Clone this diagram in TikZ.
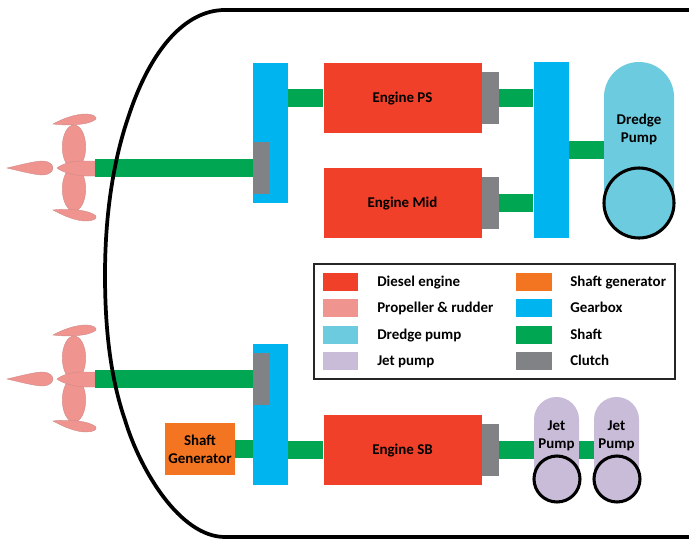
\documentclass[tikz,border=0pt]{standalone}
\usepackage{fontspec}
\setmainfont{Carlito}
\usetikzlibrary{positioning,calc}

\definecolor{engineRed}{HTML}{F0402A}
\definecolor{propPink}{HTML}{F09490}
\definecolor{propEdge}{HTML}{D08A88}
\definecolor{dredgeTeal}{HTML}{6CCBDE}
\definecolor{jetLilac}{HTML}{C8BCD9}
\definecolor{genOrange}{HTML}{F47521}
\definecolor{gearBlue}{HTML}{00B5EF}
\definecolor{shaftGreen}{HTML}{00A651}
\definecolor{clutchGrey}{HTML}{808285}

\tikzset{
  label text/.style={font=\bfseries\fontsize{11.2}{13.5}\selectfont,align=center,text=black,yshift=-0.75pt},
  key text/.style={font=\bfseries\fontsize{11.2}{13.5}\selectfont,text=black,anchor=west,inner sep=0pt,text height=9.6pt,text depth=2.4pt},
  block/.style={rectangle,inner sep=0pt,font=\bfseries\fontsize{11.2}{13.5}\selectfont,align=center,text=black},
  engine/.style={block,fill=engineRed,minimum width=118.5pt,minimum height=52.5pt,text height=7.6pt,text depth=1.6pt},
  gearbox/.style={block,fill=gearBlue,minimum width=26.25pt},
  clutch/.style={block,fill=clutchGrey,minimum width=12.75pt,minimum height=39pt},
  dredge/.style={block,fill=dredgeTeal,minimum width=52.5pt,minimum height=132pt,rounded corners=26.2pt},
  jet/.style={block,fill=jetLilac,minimum width=33.75pt,minimum height=79.5pt,rounded corners=16.8pt},
  port/.style={circle,draw=black,line width=2.3pt,inner sep=0pt},
  shaft/.style={shaftGreen,line width=13.5pt},
  swatch/.style={rectangle,inner sep=0pt,minimum width=26.5pt,minimum height=13.5pt},
  propeller/.pic={
    \begin{scope}[fill=propPink,draw=propEdge,line width=0.3pt]
      % Blades
      \filldraw (74,-21) ellipse (8.8pt and 16.5pt);
      \filldraw (74,21) ellipse (8.8pt and 16.5pt);
      \filldraw (53,-44) .. controls (64,-50) and (76,-54) .. (86,-54) .. controls (93,-54) and (97,-51) .. (96,-49)
        .. controls (90,-43) and (68,-42) .. (53,-44) -- cycle;
      \filldraw (53,42) .. controls (68,40) and (90,42) .. (96,48) .. controls (97,51) and (93,53) .. (86,53)
        .. controls (76,53) and (64,48) .. (53,42) -- cycle;
      % Rudder
      \filldraw (7,0) .. controls (20,-3) and (35,-7) .. (43,-7) .. controls (49,-7) and (53,-3) .. (53,0)
        .. controls (53,3) and (49,7) .. (43,7) .. controls (35,7) and (20,3) .. (7,0) -- cycle;
      % Hub
      \filldraw (57,0) .. controls (62,-4) and (72,-7) .. (82,-7) -- (95,-7) -- (95,8) -- (84,8)
        .. controls (72,7) and (62,4) .. (57,0) -- cycle;
    \end{scope}
  }
}

\begin{document}
\begin{tikzpicture}[x=0.75pt,y=-0.75pt]
  \useasboundingbox (0,0) rectangle (689,539);

  % Propellers
  \pic at (0,168) {propeller};
  \pic at (0,379) {propeller};
  \coordinate (hubPort) at (95,168);
  \coordinate (hubStar) at (95,379);

  % Gearboxes
  \node[gearbox,minimum height=105pt] (gearPort) at (270.5,133) {};
  \node[gearbox,minimum height=132pt] (gearDredge) at (551,150) {};
  \node[gearbox,minimum height=105.75pt] (gearStar) at (270.5,414.5) {};

  % Engines
  \node[engine] (enginePS) at (402.5,98) {Engine PS};
  \node[engine] (engineMid) at (402.5,203) {Engine Mid};
  \node[engine] (engineSB) at (402.5,450) {Engine SB};

  % Clutches
  \node[clutch] (clutchPort) at (261.5,168) {};
  \node[clutch] (clutchStar) at (261.5,379) {};
  \node[clutch] (clutchPS) at (490.5,97.5) {};
  \node[clutch] (clutchMid) at (490.5,203) {};
  \node[clutch] (clutchSB) at (490.5,449.5) {};

  % Shaft generator
  \node[block,fill=genOrange,minimum width=52.5pt,minimum height=39pt] (generator) at (200,449) {Shaft\\Generator};

  % Pumps
  \node[dredge] (dredgePump) at (639,150) {};
  \node[label text] (dredgeText) at (639,128) {Dredge\\Pump};
  \node[jet] (jetA) at (556.5,450) {};
  \node[jet] (jetB) at (616.5,450) {};
  \node[label text] (jetAText) at (556.5,435) {Jet\\Pump};
  \node[label text] (jetBText) at (616.5,435) {Jet\\Pump};
  \node[port,minimum size=52.5pt] (dredgeRing) at (639,203) {};
  \node[port,minimum size=34.5pt] (jetARing) at (557,479) {};
  \node[port,minimum size=34.5pt] (jetBRing) at (617,479) {};

  % Shafts
  \draw[shaft] (hubPort) -- (clutchPort.west);
  \draw[shaft] (hubStar) -- (clutchStar.west);
  \draw[shaft] (gearPort.east |- enginePS.west) -- (enginePS.west);
  \draw[shaft] (clutchPS.east) -- (gearDredge.west |- clutchPS.east);
  \draw[shaft] (clutchMid.east) -- (gearDredge.west |- clutchMid.east);
  \draw[shaft] (gearDredge.east) -- (dredgePump.west);
  \draw[shaft] (generator.east) -- (gearStar.west |- generator.east);
  \draw[shaft] (gearStar.east |- engineSB.west) -- (engineSB.west);
  \draw[shaft] (clutchSB.east) -- (jetA.west |- clutchSB.east);
  \draw[shaft] (jetA.east) -- (jetB.west);

  % Hull
  \draw[line width=2.8pt] (689,10) -- (225,10) .. controls (185,10) and (150,50) .. (128,118)
    .. controls (112,165) and (105,220) .. (105,275) .. controls (105,340) and (113,385) .. (125,420)
    .. controls (140,470) and (180,537) .. (225,537) -- (689,537);

  % Legend
  \node[rectangle,draw=black!85,line width=1pt,inner sep=0pt,minimum width=270.75pt,minimum height=86.25pt] (legend) at (494.5,321.5) {};
  \foreach \y/\col/\txt [count=\i] in {282/engineRed/Diesel engine,308/propPink/Propeller \& rudder,335/dredgeTeal/Dredge pump,361/jetLilac/Jet pump} {
    \node[swatch,fill=\col] (keyA\i) at (340.5,\y) {};
    \node[key text] (textA\i) at (377,\y) {\txt};
  }
  \foreach \y/\col/\txt [count=\i] in {282/genOrange/Shaft generator,308/gearBlue/Gearbox,335/shaftGreen/Shaft,361/clutchGrey/Clutch} {
    \node[swatch,fill=\col] (keyB\i) at (534,\y) {};
    \node[key text] (textB\i) at (570,\y) {\txt};
  }
\end{tikzpicture}
\end{document}
